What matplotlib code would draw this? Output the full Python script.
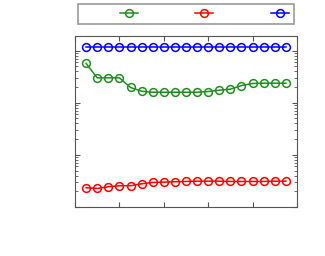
import numpy as np
import matplotlib
matplotlib.use('Agg')
import matplotlib.pyplot as plt

# du lieu doc tu hinh
x = np.arange(1, 20)
green = [568, 300, 300, 300, 196, 166, 159, 159, 159, 159, 159, 164, 174, 182, 214, 234, 237, 237, 237]
red = [2.34, 2.27, 2.44, 2.56, 2.56, 2.79, 2.96, 3.0, 3.05, 3.09, 3.13, 3.13, 3.13, 3.09, 3.09, 3.09, 3.09, 3.13, 3.13]
blue = [1180] * 19
labels = ['', '', '']

fig = plt.figure(figsize=(3.25, 2.56), dpi=100)
ax = fig.add_axes([75/325, 1-207/256, 222/325, 171/256])

kw = dict(marker='o', mfc='none', ms=5.6, mew=1.1, lw=1.1)
l1, = ax.plot(x, green, color=(0.13, 0.55, 0.13), **kw)
l2, = ax.plot(x, red, color='red', **kw)
l3, = ax.plot(x, blue, color='blue', **kw)

ax.set_yscale('log')
ax.set_xlim(0, 20)
ax.set_ylim(1, 10**3.28)
ax.set_xticks([0, 4, 8, 12, 16, 20])
ax.tick_params(which='both', direction='in', top=True, right=True,
               labelbottom=False, labelleft=False, color='#555555')
ax.tick_params(which='major', length=3.5)
ax.tick_params(which='minor', length=2)
for s in ax.spines.values():
    s.set_color('#555555')
    s.set_linewidth(0.8)

leg = fig.legend([l1, l2, l3], labels, ncol=3, markerfirst=False,
                 loc='center', bbox_to_anchor=(186/325, 1-13.5/256),
                 fontsize=8, handlelength=1.6, handletextpad=3.3,
                 columnspacing=1.9, borderpad=0.45, borderaxespad=0,
                 fancybox=False, framealpha=1)
leg.get_frame().set_edgecolor('#999999')
leg.get_frame().set_linewidth(1.2)

plt.savefig('out.png', dpi=100)
